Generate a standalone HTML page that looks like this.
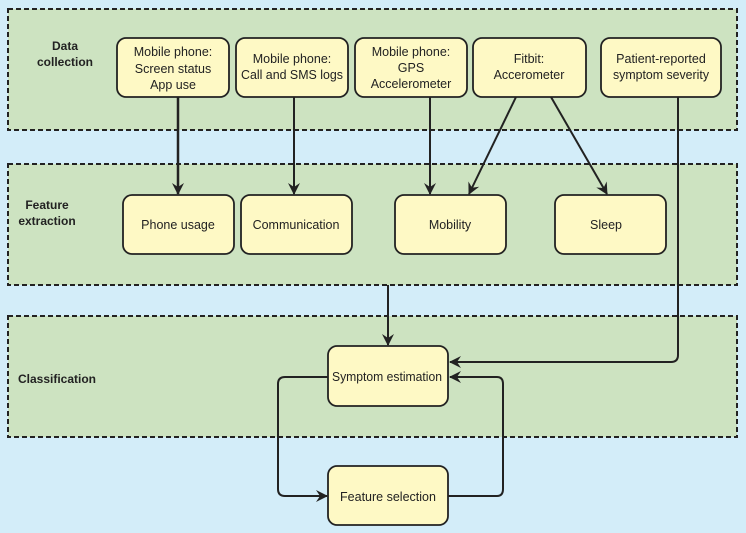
<!DOCTYPE html>
<html><head><meta charset="utf-8"><style>
html,body{margin:0;padding:0;background:#d3edf9;}
svg{display:block}
text{font-family:"Liberation Sans",sans-serif;fill:#222;}
.b{font-weight:bold;font-size:12px;}
.n{font-size:12.5px;}
</style></head><body>
<svg width="746" height="533" viewBox="0 0 746 533" xmlns="http://www.w3.org/2000/svg">
<defs>
<marker id="a" markerWidth="14" markerHeight="14" refX="11" refY="6" orient="auto" markerUnits="userSpaceOnUse">
<path d="M0,0 L12,6 L0,12 L4,6 Z" fill="#222"/></marker>
</defs>
<rect width="746" height="533" fill="#d3edf9"/>
<g fill="#cde3c1" stroke="#222" stroke-width="2" stroke-dasharray="5,3">
<rect x="8" y="9" width="729" height="121"/>
<rect x="8" y="164" width="729" height="121"/>
<rect x="8" y="316" width="729" height="121"/>
</g>
<g class="b" text-anchor="middle">
<text x="65" y="50">Data</text><text x="65" y="66">collection</text>
<text x="47" y="209">Feature</text><text x="47" y="225">extraction</text>
<text x="57" y="383">Classification</text>
</g>
<g stroke="#222" stroke-width="2" fill="none">
<line x1="178" y1="97" x2="178" y2="194" marker-end="url(#a)" stroke-width="2.5"/>
<line x1="294" y1="97" x2="294" y2="194" marker-end="url(#a)"/>
<line x1="430" y1="97" x2="430" y2="194" marker-end="url(#a)"/>
<line x1="516" y1="97" x2="469" y2="194" marker-end="url(#a)"/>
<line x1="551" y1="97" x2="607" y2="194" marker-end="url(#a)"/>
<line x1="388" y1="285" x2="388" y2="345" marker-end="url(#a)"/>
<path d="M678,97 V355 Q678,362 671,362 H450" marker-end="url(#a)"/>
<path d="M328,377 H285 Q278,377 278,384 V489 Q278,496 285,496 H327" marker-end="url(#a)"/>
<path d="M448,496 H497 Q503,496 503,489 V384 Q503,377 497,377 H450" marker-end="url(#a)"/>
</g>
<g fill="#fef9c5" stroke="#222" stroke-width="1.8">
<rect x="117" y="38" width="112" height="59" rx="9"/>
<rect x="236" y="38" width="112" height="59" rx="9"/>
<rect x="355" y="38" width="112" height="59" rx="9"/>
<rect x="473" y="38" width="113" height="59" rx="9"/>
<rect x="601" y="38" width="120" height="59" rx="9"/>
<rect x="123" y="195" width="111" height="59" rx="9"/>
<rect x="241" y="195" width="111" height="59" rx="9"/>
<rect x="395" y="195" width="111" height="59" rx="9"/>
<rect x="555" y="195" width="111" height="59" rx="9"/>
<rect x="328" y="346" width="120" height="60" rx="9"/>
<rect x="328" y="466" width="120" height="59" rx="9"/>
</g>
<g class="n" text-anchor="middle">
<text x="173" y="56">Mobile phone:</text><text x="173" y="73">Screen status</text><text x="173" y="89">App use</text>
<text x="292" y="63">Mobile phone:</text><text x="292" y="79" textLength="102" lengthAdjust="spacingAndGlyphs">Call and SMS logs</text>
<text x="411" y="56">Mobile phone:</text><text x="411" y="72">GPS</text><text x="411" y="88">Accelerometer</text>
<text x="529" y="63">Fitbit:</text><text x="529" y="79">Accerometer</text>
<text x="661" y="63">Patient-reported</text><text x="661" y="79" textLength="96" lengthAdjust="spacingAndGlyphs">symptom severity</text>
<text x="178" y="229">Phone usage</text>
<text x="296" y="229">Communication</text>
<text x="450" y="229">Mobility</text>
<text x="606" y="229">Sleep</text>
<text x="387" y="381" textLength="110" lengthAdjust="spacingAndGlyphs">Symptom estimation</text>
<text x="388" y="501">Feature selection</text>
</g>
</svg>
</body></html>
